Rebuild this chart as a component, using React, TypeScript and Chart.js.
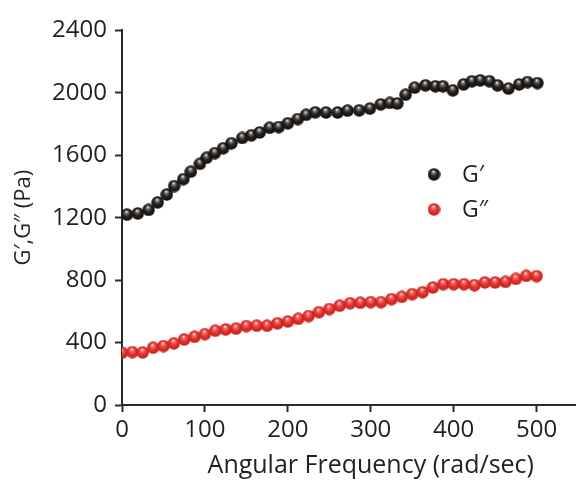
import React, { useEffect, useRef } from 'react';
import { Chart, registerables } from 'chart.js';

Chart.register(...registerables);

// G' (storage modulus) — black series
const gPrimeX = [6, 19, 32, 43, 54, 63, 74, 83, 94, 102, 112, 122, 132, 145, 156, 166, 178, 189, 200, 212, 222, 233, 246, 260, 272, 286, 299, 312, 323, 332, 342, 353, 366, 378, 387, 399, 412, 422, 432, 443, 453, 466, 479, 489, 501];
const gPrimeY = [1220, 1227, 1250, 1298, 1349, 1403, 1447, 1495, 1545, 1584, 1614, 1645, 1677, 1711, 1728, 1746, 1776, 1781, 1805, 1832, 1859, 1875, 1874, 1874, 1886, 1888, 1899, 1926, 1935, 1932, 1988, 2033, 2048, 2042, 2042, 2016, 2054, 2074, 2080, 2075, 2048, 2027, 2054, 2069, 2063];

// G'' (loss modulus) — red series
const gDoublePrimeX = [0, 12.5, 25, 37.5, 50, 62.5, 75, 87.5, 100, 112.5, 125, 137.5, 150, 162.5, 175, 187.5, 200, 212.5, 225, 237.5, 250, 262.5, 275, 287.5, 300, 312.5, 325, 337.5, 350, 362.5, 375, 387.5, 400, 412.5, 425, 437.5, 450, 462.5, 475, 487.5, 500];
const gDoublePrimeY = [335, 339, 337, 367, 378, 395, 420, 437, 454, 476, 484, 489, 506, 508, 508, 523, 535, 552, 570, 595, 615, 636, 652, 655, 659, 659, 678, 693, 710, 723, 753, 774, 774, 774, 768, 785, 785, 789, 808, 827, 826];

const seriesLabels = ['G\u2032', 'G\u2033'];
const xTicks = [0, 100, 200, 300, 400, 500];
const yTicks = [0, 400, 800, 1200, 1600, 2000, 2400];
const xTitle = 'Angular Frequency (rad/sec)';
const yTitle = 'G\u2032,G\u2033 (Pa)';

const FONT = "'Open Sans', 'DejaVu Sans', sans-serif";
const TEXT = '#231f20';
const AXIS = '#2b2b2b';

function makeSphere(kind: 'black' | 'red', d: number): HTMLCanvasElement {
  const c = document.createElement('canvas');
  c.width = d;
  c.height = d;
  const ctx = c.getContext('2d')!;
  const r = d / 2;
  const g = ctx.createRadialGradient(r - r * 0.1, r - r * 0.45, r * 0.05, r, r, r);
  if (kind === 'black') {
    g.addColorStop(0, '#eeeae6');
    g.addColorStop(0.2, '#7a726c');
    g.addColorStop(0.5, '#2a2522');
    g.addColorStop(1, '#0c0a09');
  } else {
    g.addColorStop(0, '#ffe0e0');
    g.addColorStop(0.22, '#f06a68');
    g.addColorStop(0.55, '#e4322c');
    g.addColorStop(1, '#c01e1a');
  }
  ctx.fillStyle = g;
  ctx.beginPath();
  ctx.arc(r, r, r - 0.3, 0, Math.PI * 2);
  ctx.fill();
  return c;
}

export default function App() {
  const ref = useRef<HTMLCanvasElement | null>(null);

  useEffect(() => {
    if (!ref.current) return;
    const black = makeSphere('black', 13);
    const red = makeSphere('red', 13);
    const sprites = [black, red];

    const legendPlugin = {
      id: 'innerLegend',
      afterDatasetsDraw(chart: any) {
        const { ctx, chartArea } = chart;
        const x0 = chartArea.left + 312;
        const ys = [chartArea.top + 144, chartArea.top + 179];
        ctx.save();
        ctx.font = `23px ${FONT}`;
        ctx.fillStyle = TEXT;
        ctx.textBaseline = 'middle';
        ctx.textAlign = 'left';
        chart.data.datasets.forEach((ds: any, i: number) => {
          const img = sprites[i];
          ctx.drawImage(img, x0 - img.width / 2, ys[i] - img.height / 2);
          ctx.fillText(ds.label, x0 + 28, ys[i] + 1);
        });
        ctx.restore();
      },
    };

    const fmt = (v: any) => String(v);

    const chart = new Chart(ref.current, {
      type: 'scatter',
      data: {
        datasets: [
          {
            label: seriesLabels[0],
            data: gPrimeX.map((x, i) => ({ x, y: gPrimeY[i] })),
            pointStyle: black as any,
            pointRadius: 6.5,
            showLine: false,
          },
          {
            label: seriesLabels[1],
            data: gDoublePrimeX.map((x, i) => ({ x, y: gDoublePrimeY[i] })),
            pointStyle: red as any,
            pointRadius: 6.5,
            showLine: false,
          },
        ],
      },
      options: {
        responsive: false,
        animation: false,
        layout: { padding: { top: 22, left: 0, right: 0, bottom: 0 } },
        plugins: {
          legend: { display: false },
          tooltip: { enabled: false },
        },
        scales: {
          x: {
            type: 'linear',
            min: 0,
            max: 600,
            afterBuildTicks: (s: any) => {
              s.ticks = xTicks.map((v) => ({ value: v }));
            },
            afterFit: (s: any) => {
              s.height = 77;
            },
            ticks: {
              font: { family: FONT, size: 24 },
              color: TEXT,
              padding: 4,
              maxRotation: 0,
              callback: fmt,
            },
            grid: {
              display: true,
              drawOnChartArea: false,
              drawTicks: true,
              tickLength: 7,
              tickWidth: 2,
              tickColor: AXIS,
            },
            border: { display: true, color: AXIS, width: 2 },
            title: {
              display: true,
              text: xTitle,
              font: { family: FONT, size: 25 },
              color: TEXT,
              padding: { top: 0, bottom: 1 },
            },
          },
          y: {
            type: 'linear',
            min: 0,
            max: 2400,
            afterBuildTicks: (s: any) => {
              s.ticks = yTicks.map((v) => ({ value: v }));
            },
            afterFit: (s: any) => {
              s.width = 114;
            },
            ticks: {
              font: { family: FONT, size: 24 },
              color: TEXT,
              padding: 8,
              callback: fmt,
            },
            grid: {
              display: true,
              drawOnChartArea: false,
              drawTicks: true,
              tickLength: 7,
              tickWidth: 2,
              tickColor: AXIS,
            },
            border: { display: true, color: AXIS, width: 2 },
            title: {
              display: true,
              text: yTitle,
              font: { family: FONT, size: 22 },
              color: TEXT,
              padding: { top: 3, bottom: 0 },
            },
          },
        },
      },
      plugins: [legendPlugin],
    });
    return () => chart.destroy();
  }, []);

  return (
    <div style={{ width: 576, height: 474, overflow: 'hidden', background: '#fff' }}>
      <div style={{ width: 619, height: 474 }}>
        <canvas ref={ref} width={619} height={474} style={{ display: 'block' }} />
      </div>
    </div>
  );
}
